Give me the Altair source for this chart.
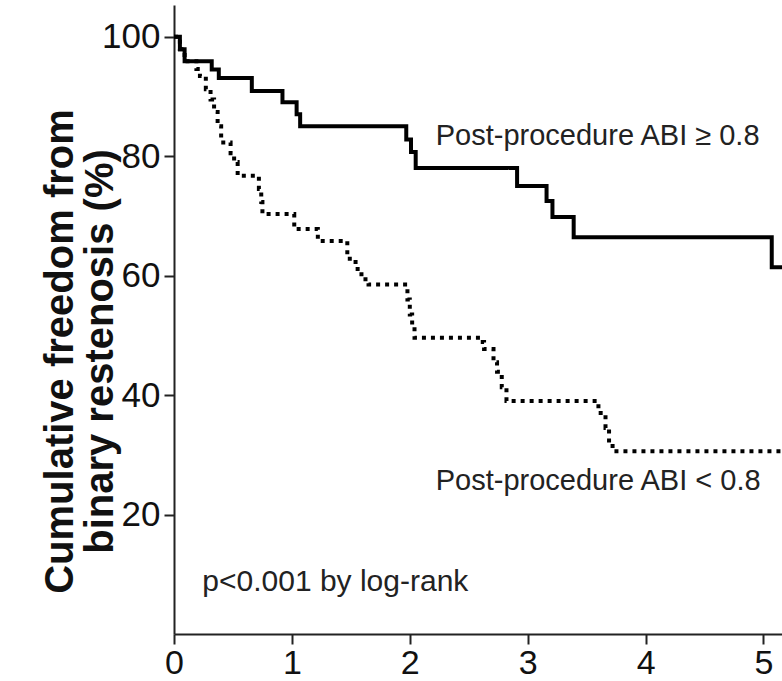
import altair as alt
import pandas as pd

# Kaplan-Meier step data (years, % freedom from binary restenosis)
high_t = [0, 0.05, 0.09, 0.32, 0.38, 0.66, 0.92, 1.04, 1.07, 1.97, 2.01, 2.05,
          2.91, 3.16, 3.21, 3.39, 5.07, 5.16]
high_s = [100, 97.9, 95.9, 94.5, 93.1, 90.9, 89.0, 87.0, 85.0, 82.8, 80.7, 78.0,
          75.0, 72.5, 69.8, 66.4, 61.4, 61.4]

low_t = [0, 0.05, 0.09, 0.19, 0.22, 0.27, 0.31, 0.34, 0.37, 0.40, 0.48, 0.51, 0.54,
         0.72, 0.74, 0.75, 1.02, 1.22, 1.47, 1.54, 1.59, 1.65, 1.98, 2.00, 2.02, 2.04,
         2.60, 2.63, 2.71, 2.74, 2.78, 2.82, 3.60, 3.66, 3.69, 3.72, 5.16]
low_s = [100, 97.9, 95.9, 94.6, 93.4, 91.2, 89.5, 87.4, 85.0, 82.3, 80.5, 79.0, 76.7,
         74.5, 72.3, 70.3, 67.8, 65.8, 62.8, 61.1, 59.4, 58.5, 56.0, 53.5, 51.5, 49.6,
         48.9, 47.7, 45.5, 43.9, 41.3, 39.0, 37.0, 34.5, 32.0, 30.6, 30.6]

groups = ["Post-procedure ABI ≥ 0.8", "Post-procedure ABI < 0.8"]

x_ticks = [0, 1, 2, 3, 4, 5]
y_ticks = [20, 40, 60, 80, 100]

ann_text = ["Post-procedure ABI ≥ 0.8", "Post-procedure ABI < 0.8", "p<0.001 by log-rank"]
ann_size = [29, 29, 30]
ann_x = [2.22, 2.22, 0.24]
ann_y = [83.3, 25.6, 8.7]

df = pd.concat([
    pd.DataFrame({"t": high_t, "s": high_s, "group": groups[0]}),
    pd.DataFrame({"t": low_t, "s": low_s, "group": groups[1]}),
])
ann = pd.DataFrame({"t": ann_x, "s": ann_y, "label": ann_text, "size": ann_size})

FONT = "Liberation Sans"

x_scale = alt.Scale(domain=[0, 5.157], nice=False, zero=False)
y_scale = alt.Scale(domain=[0, 105.3], nice=False)

x_axis = alt.Axis(values=x_ticks, title=None, grid=False, labelFontSize=34,
                  labelFont=FONT, labelColor="#111", labelPadding=2,
                  labelFlush=False, tickSize=10, tickWidth=2, tickColor="#222",
                  domainColor="#222", domainWidth=2, format="d")
y_axis = alt.Axis(values=y_ticks, title=["Cumulative freedom from", "binary restenosis (%)"],
                  grid=False, labelFontSize=35, labelFont=FONT, labelColor="#111",
                  labelPadding=4, tickSize=10, tickWidth=2, tickColor="#222",
                  domainColor="#222", domainWidth=2,
                  titleFont=FONT, titleFontSize=40, titleFontWeight="bold",
                  titleColor="#111", titleAngle=270, titleAlign="center",
                  titleBaseline="middle", titleLineHeight=40,
                  titleX=-114, titleY=346, format="d")

lines = alt.Chart(df).mark_line(
    interpolate="step-after", color="black", strokeWidth=4, clip=True, strokeCap="butt"
).encode(
    x=alt.X("t:Q", scale=x_scale, axis=x_axis),
    y=alt.Y("s:Q", scale=y_scale, axis=y_axis),
    strokeDash=alt.StrokeDash("group:N", scale=alt.Scale(domain=groups, range=[[1, 0], [4, 5]]),
                              legend=None),
    detail="group:N",
)

texts = alt.Chart(ann).mark_text(
    align="left", baseline="middle", font=FONT, color="#222"
).encode(
    x=alt.X("t:Q", scale=x_scale, axis=x_axis),
    y=alt.Y("s:Q", scale=y_scale, axis=y_axis),
    text="label:N",
    size=alt.Size("size:Q", scale=None, legend=None),
)

chart = alt.layer(lines, texts).properties(
    width=608, height=629,
    padding={"left": 174, "top": 5, "right": 0, "bottom": 47},
    autosize=alt.AutoSizeParams(type="none"),
    background="white",
).configure_view(stroke=None)

chart.save("out.html", embed_options={"renderer": "svg", "actions": False})
